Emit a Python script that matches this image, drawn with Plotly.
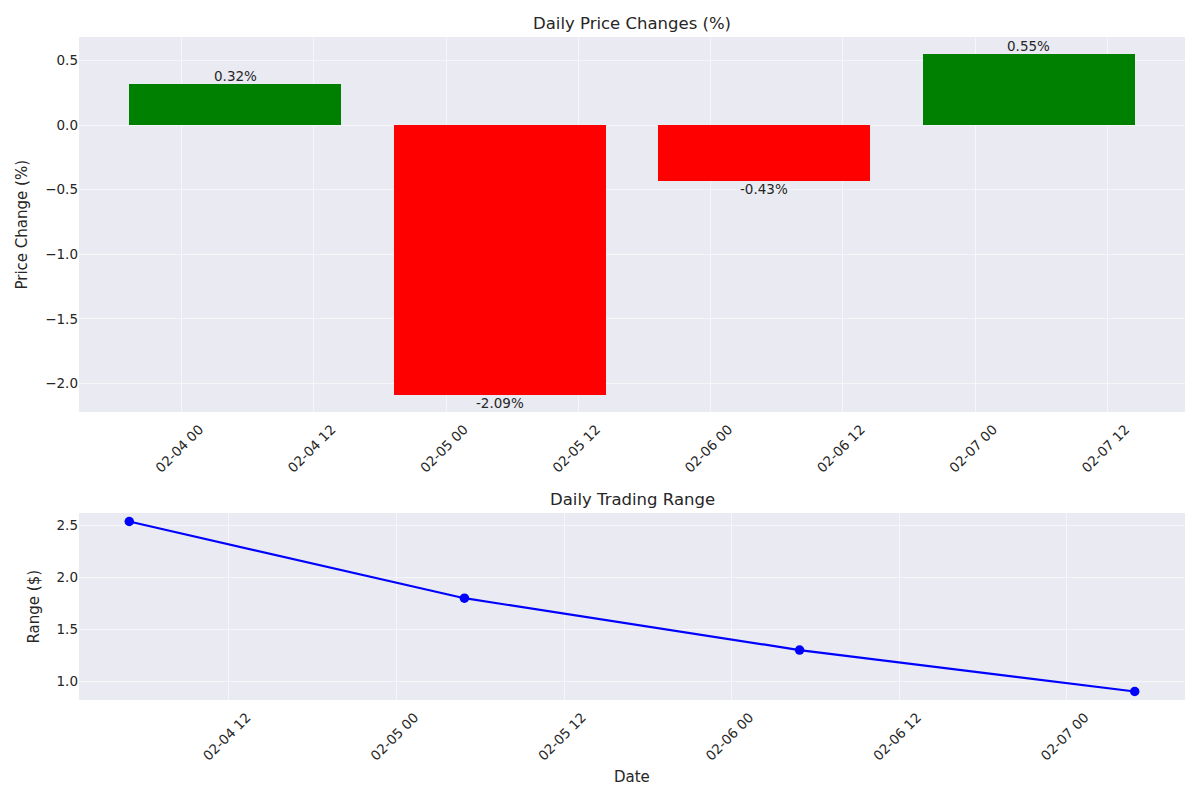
import plotly.graph_objects as go
import pandas as pd

# Data
dates = ["2025-02-04 04:52", "2025-02-05 04:52", "2025-02-06 04:52", "2025-02-07 04:52"]
price_change = [0.32, -2.09, -0.43, 0.55]
trading_range = [2.54, 1.80, 1.30, 0.90]
change_labels = ["0.32%", "-2.09%", "-0.43%", "0.55%"]

TXT = "#262626"
BG = "#EAEAF2"
GRID = "rgba(255,255,255,0.55)"
FONT = "DejaVu Sans"

dt = pd.to_datetime(dates)
bar_w = pd.Timedelta(hours=0.8 * 24)
colors = ["green" if v >= 0 else "red" for v in price_change]

fig = go.Figure()
fig.add_trace(go.Bar(
    x=dates, y=price_change, width=bar_w.total_seconds() * 1000,
    marker=dict(color=colors, line=dict(width=0)),
    xaxis="x", yaxis="y", showlegend=False,
))
fig.add_trace(go.Scatter(
    x=dates, y=trading_range, mode="lines+markers",
    line=dict(color="blue", width=2.2), marker=dict(color="blue", size=9.5),
    xaxis="x2", yaxis="y2", showlegend=False,
))

# ranges with matplotlib-like 5% margins
lo1 = dt.min() - bar_w / 2
hi1 = dt.max() + bar_w / 2
pad1 = (hi1 - lo1) * 0.05
ymin1, ymax1 = min(min(price_change), 0), max(max(price_change), 0)
ypad1 = (ymax1 - ymin1) * 0.05
pad2 = (dt.max() - dt.min()) * 0.05
ypad2 = (max(trading_range) - min(trading_range)) * 0.05

xd = [79 / 1200, 1185 / 1200]
axis_common = dict(
    showgrid=True, gridcolor=GRID, gridwidth=1, zeroline=False,
    showline=False, ticks="", tickfont=dict(family=FONT, size=13.5, color=TXT),
)
xaxis_extra = dict(tick0="2025-02-04 00:00", dtick=12 * 3600 * 1000,
                   tickformat="%m-%d %H", tickangle=-45,
                   ticklabelshift=18, ticklabelstandoff=6)
fig.update_layout(
    width=1200, height=800,
    margin=dict(l=0, r=0, t=0, b=0),
    paper_bgcolor="white", plot_bgcolor=BG,
    font=dict(family=FONT, color=TXT),
    bargap=0,
    xaxis=dict(domain=xd, anchor="y", type="date",
               range=[lo1 - pad1, hi1 + pad1], **xaxis_extra, **axis_common),
    yaxis=dict(domain=[1 - 412 / 800, 1 - 37 / 800], anchor="x",
               range=[ymin1 - ypad1, ymax1 + ypad1],
               dtick=0.5, tickformat=".1f", **axis_common),
    xaxis2=dict(domain=xd, anchor="y2", type="date",
                range=[dt.min() - pad2, dt.max() + pad2], **xaxis_extra, **axis_common),
    yaxis2=dict(domain=[1 - 700 / 800, 1 - 513 / 800], anchor="x2",
                range=[min(trading_range) - ypad2, max(trading_range) + ypad2],
                dtick=0.5, tickformat=".1f", **axis_common),
)

# value labels
for d, v, lab in zip(dates, price_change, change_labels):
    fig.add_annotation(
        x=d, y=v, xref="x", yref="y", text=lab, showarrow=False,
        yanchor="bottom" if v >= 0 else "top",
        yshift=-2 if v >= 0 else 2,
        font=dict(family=FONT, size=13.5, color=TXT),
    )

# titles and axis labels
xc = (xd[0] + xd[1]) / 2
for text, x, y, size, angle in [
    ("Daily Price Changes (%)", xc, 1 - 23 / 800, 16.5, 0),
    ("Daily Trading Range", xc, 1 - 499 / 800, 16.5, 0),
    ("Price Change (%)", 21 / 1200, 1 - 224.5 / 800, 15, -90),
    ("Range ($)", 33 / 1200, 1 - 606.5 / 800, 15, -90),
    ("Date", xc, 1 - 777 / 800, 15, 0),
]:
    fig.add_annotation(
        x=x, y=y, xref="paper", yref="paper", text=text, showarrow=False,
        xanchor="center", yanchor="middle", textangle=angle,
        font=dict(family=FONT, size=size, color=TXT),
    )

fig.write_html("out.html", config={"displayModeBar": False},
               post_script="document.body.style.margin='0px';")
